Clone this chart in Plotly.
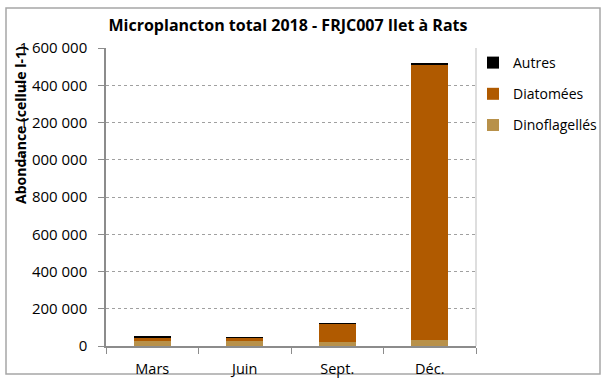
import plotly.graph_objects as go

categories = ["Mars", "Juin", "Sept.", "Déc."]
dinoflagelles = [25000, 25000, 21000, 30000]
diatomees = [21000, 18000, 101000, 1481000]
autres = [5000, 1000, 1000, 9000]

y_tickvals = [0, 200000, 400000, 600000, 800000, 1000000, 1200000, 1400000, 1600000]
y_ticktext = ["0", "200 000", "400 000", "600 000", "800 000", "1 000 000",
              "1 200 000", "1 400 000", "1 600 000"]

FONT = "Open Sans"
L, R, T, B = 106, 130, 48, 34
W, H = 606, 380
pw, ph = W - L - R, H - T - B

fig = go.Figure()
series = [("Dinoflagellés", dinoflagelles, "#B8914A", 3),
          ("Diatomées", diatomees, "#B05A00", 2),
          ("Autres", autres, "#000000", 1)]
for name, vals, col, rank in series:
    fig.add_trace(go.Bar(x=categories, y=vals, name=name, marker_color=col,
                         marker_line_width=0, legendgroup=name, legendrank=rank))

fig.update_layout(
    width=W, height=H, barmode="stack", bargap=0.6,
    margin=dict(l=L, r=R, t=T, b=B, autoexpand=False),
    paper_bgcolor="white", plot_bgcolor="white",
    font=dict(family=FONT, size=14, color="#000000"),
    title=dict(text="<b>Microplancton total 2018 - FRJC007 Ilet à Rats</b>",
               x=288 / W, xanchor="center", y=1 - 25 / H, yanchor="middle",
               font=dict(family=FONT, size=16)),
    legend=dict(x=(473 - L) / pw, xanchor="left", y=1 - (47 - T) / ph, yanchor="top",
                traceorder="grouped", tracegroupgap=10, font=dict(size=14),
                itemwidth=30, bgcolor="rgba(0,0,0,0)"),
    showlegend=True,
)
fig.update_xaxes(showline=True, linecolor="#8C8C8C", linewidth=1.5,
                 ticks="outside", tickson="boundaries", ticklen=6, tickcolor="#8C8C8C",
                 tickfont=dict(size=14.5), ticklabelstandoff=9, showgrid=False)
fig.update_yaxes(range=[0, 1600000], tickvals=y_tickvals, ticktext=y_ticktext,
                 showline=True, linecolor="#8C8C8C", linewidth=1.5,
                 ticks="outside", ticklen=6, tickcolor="#8C8C8C",
                 tickfont=dict(size=15), ticklabelstandoff=8,
                 showgrid=True, gridcolor="#A0A0A0",
                 griddash="dot", gridwidth=1, zeroline=False)

# right border of plot area
fig.add_shape(type="line", xref="paper", yref="paper", x0=1, x1=1, y0=0, y1=1,
              line=dict(color="#BDBDBD", width=1))
# outer chart border
fig.add_shape(type="rect", xref="paper", yref="paper",
              x0=(6 - L) / pw, x1=(600 - L) / pw,
              y0=(H - B - 374) / ph, y1=(H - B - 8) / ph,
              line=dict(color="#A6A6A6", width=1.5), layer="below")

fig.add_annotation(text="<b>Abondance (cellule l-1)</b>", textangle=-90,
                   xref="paper", yref="paper", x=(20 - L) / pw, y=(H - B - 125) / ph,
                   xanchor="center", yanchor="middle", showarrow=False,
                   bgcolor="rgba(0,0,0,0)",
                   font=dict(family=FONT, size=14, color="#000000"))

fig.write_html("out.html")
